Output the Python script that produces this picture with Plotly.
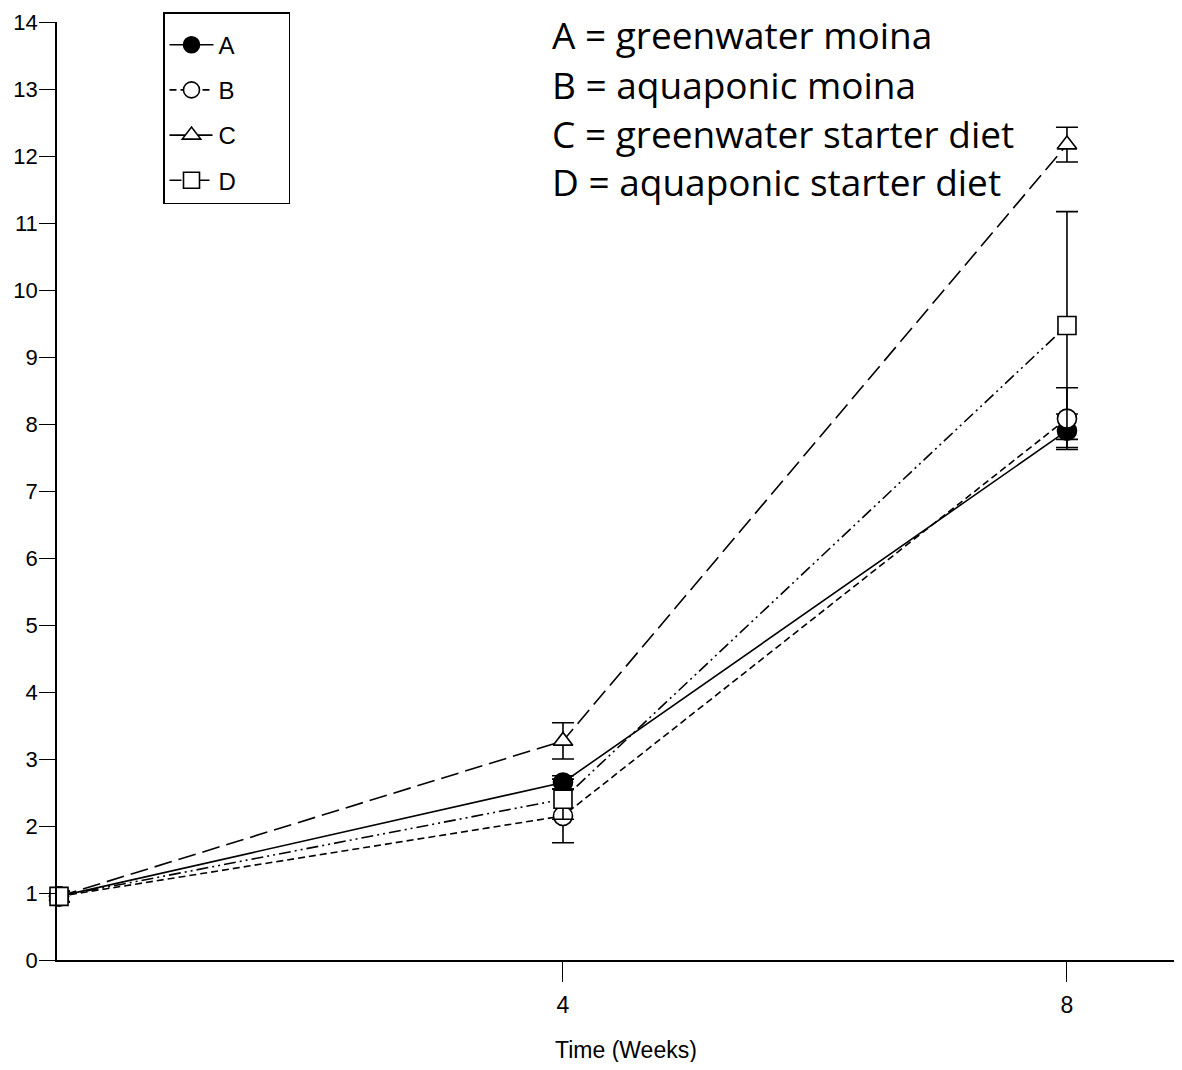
import plotly.graph_objects as go

weeks = [0, 4, 8]
series_names = ["A", "B", "C", "D"]
A_vals = [0.95, 2.65, 7.9]
A_err = [0.08, 0.1, 0.25]
B_vals = [0.95, 2.15, 8.08]
B_err = [0.08, 0.4, 0.46]
C_vals = [0.95, 3.27, 12.17]
C_err = [0.08, 0.27, 0.26]
D_vals = [0.95, 2.4, 9.47]
D_err = [0.08, 0.3, 1.7]

key_lines = ["A = greenwater moina", "B = aquaponic moina",
             "C = greenwater starter diet", "D = aquaponic starter diet"]
y_ticks = list(range(0, 15))
x_ticks = [4, 8]

styles = {
    "A": dict(symbol="circle", fill="black", dash="solid", size=19),
    "B": dict(symbol="circle", fill="white", dash="7px,4px", size=19),
    "C": dict(symbol="triangle-up", fill="white", dash="18px,7px", size=17),
    "D": dict(symbol="square", fill="white", dash="12px,4px,2px,4px,2px,4px", size=18),
}
data = {"A": (A_vals, A_err), "B": (B_vals, B_err), "C": (C_vals, C_err), "D": (D_vals, D_err)}

# The page body adds an 8px offset; figure coordinates = reference pixels - 8
OFF = 8
fig = go.Figure()
for name in series_names:
    vals, err = data[name]
    st = styles[name]
    fig.add_trace(go.Scatter(
        x=weeks, y=vals, mode="lines+markers",
        name=name + "&nbsp;" * 7, legendgroup=name,
        line=dict(color="black", width=1.6, dash=st["dash"]),
        marker=dict(symbol=st["symbol"], size=st["size"], color=st["fill"],
                    line=dict(color="black", width=1.6)),
        error_y=dict(type="data", array=err, visible=True, color="black",
                     thickness=1.6, width=11),
        cliponaxis=False,
    ))

tickfont = "Liberation Sans, Arial, sans-serif"
plot_l, plot_t, plot_b = 57 - OFF, 22 - OFF, 960 - OFF
W, H = 1182 - OFF, 1070 - 2 * OFF
plot_h = plot_b - plot_t
plot_w = W - plot_l

fig.update_layout(
    width=W, height=H,
    margin=dict(l=plot_l, r=0, t=plot_t, b=H - plot_b, autoexpand=False),
    paper_bgcolor="white", plot_bgcolor="white",
    showlegend=True,
    legend=dict(x=(163 - 57) / plot_w, y=(960 - 12) / plot_h, xanchor="left", yanchor="top",
                bordercolor="black", borderwidth=1.5, bgcolor="white",
                font=dict(family=tickfont, size=24, color="black"),
                title=dict(text="&nbsp;", font=dict(size=7)),
                itemwidth=44, tracegroupgap=11),
    xaxis=dict(range=[-0.016, 8.913], tickvals=x_ticks, ticktext=[str(t) for t in x_ticks],
               showgrid=False, zeroline=False, showline=True, linecolor="black",
               linewidth=1.6, ticks="outside", ticklen=20, tickcolor="black",
               tickwidth=1.2, automargin=False, ticklabelstandoff=4,
               tickfont=dict(family=tickfont, size=23, color="black")),
    yaxis=dict(range=[0, 14], tickvals=y_ticks, showgrid=False, zeroline=False,
               showline=True, linecolor="black", linewidth=1.6, ticks="outside",
               ticklen=16, tickcolor="black", tickwidth=1.2, automargin=False,
               ticklabelstandoff=-3, ticklabeloverflow="allow",
               tickfont=dict(family=tickfont, size=22, color="black")),
)

fig.add_annotation(text="Time (Weeks)", xref="paper", yref="paper",
                   x=(626 - 57) / plot_w, y=-(1050 - 960) / plot_h,
                   xanchor="center", yanchor="middle", showarrow=False,
                   font=dict(family=tickfont, size=23, color="black"))

key_y = [35, 84, 133, 181]
for txt, py in zip(key_lines, key_y):
    fig.add_annotation(text=txt, xref="paper", yref="paper",
                       x=(550 - 57) / plot_w, y=(960 - py) / plot_h,
                       xanchor="left", yanchor="middle", showarrow=False,
                       font=dict(family="Open Sans, sans-serif", size=37, color="black"))

fig.write_html("out.html")
